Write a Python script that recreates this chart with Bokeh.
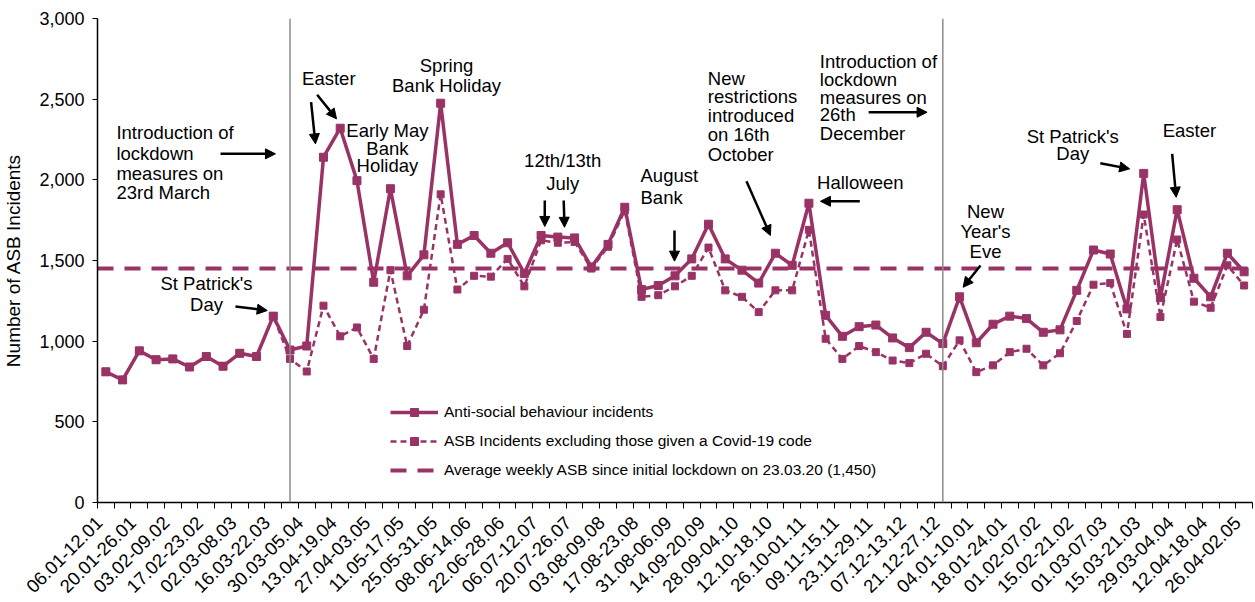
import math
from bokeh.plotting import figure
from bokeh.models import (Range1d, FixedTicker, NumeralTickFormatter, Span, Arrow,
                          NormalHead, Legend, LegendItem, ColumnDataSource)
from bokeh.core.properties import value
from bokeh.embed import file_html
from bokeh.resources import INLINE

# ---------------- data ----------------
tick_labels = ["06.01-12.01", "20.01-26.01", "03.02-09.02", "17.02-23.02", "02.03-08.03",
               "16.03-22.03", "30.03-05.04", "13.04-19.04", "27.04-03.05", "11.05-17.05",
               "25.05-31.05", "08.06-14.06", "22.06-28.06", "06.07-12.07", "20.07-26.07",
               "03.08-09.08", "17.08-23.08", "31.08-06.09", "14.09-20.09", "28.09-04.10",
               "12.10-18.10", "26.10-01.11", "09.11-15.11", "23.11-29.11", "07.12-13.12",
               "21.12-27.12", "04.01-10.01", "18.01-24.01", "01.02-07.02", "15.02-21.02",
               "01.03-07.03", "15.03-21.03", "29.03-04.04", "12.04-18.04", "26.04-02.05"]

asb_all = [810, 760, 940, 885, 890, 840, 905, 845, 925, 905,
           1155, 945, 970, 2140, 2320, 1995, 1365, 1945, 1405, 1535,
           2475, 1600, 1655, 1545, 1610, 1420, 1655, 1645, 1640, 1460,
           1600, 1830, 1320, 1345, 1405, 1510, 1725, 1510, 1440, 1360,
           1545, 1470, 1855, 1160, 1030, 1090, 1100, 1020, 960, 1055,
           985, 1275, 990, 1105, 1155, 1140, 1055, 1070, 1315, 1565,
           1540, 1200, 2040, 1270, 1815, 1390, 1275, 1545, 1430]

asb_excl_covid = [810, 760, 940, 885, 890, 840, 905, 845, 925, 905,
                  1155, 890, 812, 1220, 1030, 1085, 890, 1440, 970, 1195,
                  1910, 1320, 1405, 1400, 1510, 1340, 1625, 1610, 1615, 1450,
                  1585, 1810, 1275, 1285, 1340, 1405, 1580, 1315, 1275, 1180,
                  1315, 1315, 1690, 1015, 890, 970, 932, 880, 864, 922,
                  845, 1005, 808, 850, 932, 953, 850, 925, 1125, 1350,
                  1360, 1045, 1785, 1150, 1630, 1245, 1207, 1470, 1345]

average_since_lockdown = 1450
lockdown_weeks = [11, 50]   # 23.03-29.03 and 21.12-27.12

names = ["Anti-social behaviour incidents",
         "ASB Incidents excluding those given a Covid-19 code",
         "Average weekly ASB since initial lockdown on 23.03.20 (1,450)"]

# annotations: (text, week index, value)
ann_left = [
    ("Introduction of", 0.63, 2295), ("lockdown", 0.63, 2165),
    ("measures on", 0.63, 2041), ("23rd March", 0.63, 1920),
    ("August", 31.94, 2027), ("Bank", 31.94, 1892),
    ("New", 35.96, 2626), ("restrictions", 35.96, 2516), ("introduced", 35.96, 2399),
    ("on 16th", 35.96, 2279), ("October", 35.96, 2157),
    ("Halloween", 42.49, 1985),
    ("Introduction of", 42.65, 2735), ("lockdown", 42.65, 2622),
    ("measures on", 42.65, 2512), ("26th", 42.65, 2403), ("December", 42.65, 2289),
]
ann_center = [
    ("St Patrick's", 6.01, 1359), ("Day", 6.01, 1227),
    ("Easter", 13.32, 2626),
    ("Early May", 16.82, 2306), ("Bank", 16.82, 2192), ("Holiday", 16.82, 2089),
    ("Spring", 20.35, 2709), ("Bank Holiday", 20.35, 2585),
    ("12th/13th", 27.29, 2120), ("July", 27.29, 1979),
    ("New", 52.55, 1804), ("Year's", 52.55, 1682), ("Eve", 52.55, 1558),
    ("St Patrick's", 57.76, 2268), ("Day", 57.76, 2161),
    ("Easter", 64.73, 2306),
]
arrows = [
    (6.85, 2161, 10.13, 2161), (7.74, 1215, 9.64, 1190),
    (12.26, 2481, 12.52, 2223), (12.62, 2527, 13.78, 2378),
    (26.22, 1872, 26.22, 1711), (27.35, 1872, 27.40, 1706),
    (33.97, 1686, 33.97, 1496), (38.27, 1991, 39.70, 1655),
    (45.04, 1867, 42.69, 1867), (45.57, 2419, 49.06, 2419),
    (52.25, 1469, 51.21, 1334), (59.41, 2103, 61.16, 2068),
    (63.70, 2161, 63.94, 1892),
]

# ---------------- figure ----------------
COLOR = "#993366"
FONT = "Liberation Sans"
n = len(asb_all)
weeks = list(range(n))
LABEL_SHIFT = -0.4

p = figure(width=1255, height=602, output_backend="svg", toolbar_location=None,
           x_range=Range1d(-0.5, n - 0.5), y_range=Range1d(0, 3000),
           min_border_left=97, min_border_right=3, min_border_top=18, min_border_bottom=100)
p.outline_line_color = None
p.grid.visible = False
p.background_fill_color = "white"

# x axis
xa = p.xaxis[0]
xa.ticker = FixedTicker(ticks=[t + LABEL_SHIFT for t in range(0, n, 2)],
                        minor_ticks=[i - 0.5 for i in range(n + 1)])
xa.major_label_overrides = {2 * i + LABEL_SHIFT: lab for i, lab in enumerate(tick_labels)}
xa.major_label_orientation = math.pi / 4
xa.major_tick_in = 0
xa.major_tick_out = 0
xa.minor_tick_in = 0
xa.minor_tick_out = 6
xa.minor_tick_line_color = "black"
xa.axis_line_color = "black"
xa.axis_line_width = 1.5
xa.major_label_text_font = FONT
xa.major_label_text_font_size = "18.5px"
xa.major_label_text_color = "black"
xa.major_label_standoff = 11

# y axis
ya = p.yaxis[0]
ya.ticker = FixedTicker(ticks=list(range(0, 3001, 500)))
ya.formatter = NumeralTickFormatter(format="0,0")
ya.axis_label = "Number of ASB Incidents"
ya.axis_label_text_font = FONT
ya.axis_label_text_font_size = "19px"
ya.axis_label_text_font_style = "normal"
ya.axis_label_text_color = "black"
ya.axis_label_standoff = 12
ya.major_label_text_font = FONT
ya.major_label_text_font_size = "18px"
ya.major_label_text_color = "black"
ya.major_tick_in = 0
ya.major_tick_out = 5
ya.minor_tick_line_color = None
ya.axis_line_color = "black"
ya.axis_line_width = 1.5
ya.major_label_standoff = 8

# lockdown vertical lines
for w in lockdown_weeks:
    p.add_layout(Span(location=w, dimension="height", line_color="#8c8c8c", line_width=1.5))

# average line
avg_r = p.line([-0.5, n - 0.5], [average_since_lockdown] * 2, line_color=COLOR,
               line_width=4, line_dash="16 11")

# series
src = ColumnDataSource(dict(week=weeks, allv=asb_all, excl=asb_excl_covid))
ex_line = p.line("week", "excl", source=src, line_color=COLOR, line_width=2.5, line_dash="6 4")
ex_pts = p.scatter("week", "excl", source=src, marker="square", size=7,
                   fill_color=COLOR, line_color=COLOR)
all_line = p.line("week", "allv", source=src, line_color=COLOR, line_width=3.5)
all_pts = p.scatter("week", "allv", source=src, marker="square", size=8,
                    fill_color=COLOR, line_color=COLOR)

# annotations
for items, align in ((ann_left, "left"), (ann_center, "center")):
    p.text(x=[a[1] for a in items], y=[a[2] for a in items], text=[a[0] for a in items],
           text_font=value(FONT), text_font_size="18.5px", text_align=align,
           text_baseline="middle", text_color="black")

for x0, y0, x1, y1 in arrows:
    p.add_layout(Arrow(x_start=x0, y_start=y0, x_end=x1, y_end=y1,
                       line_color="black", line_width=2.5,
                       end=NormalHead(size=10, fill_color="black", line_color="black")))

legend = Legend(items=[LegendItem(label=names[0], renderers=[all_line, all_pts]),
                       LegendItem(label=names[1], renderers=[ex_line, ex_pts]),
                       LegendItem(label=names[2], renderers=[avg_r])],
                location=(293, 22), glyph_width=48, glyph_height=20, label_height=20,
                spacing=9, padding=0, margin=0, label_standoff=6,
                border_line_alpha=0, background_fill_alpha=0,
                label_text_font=FONT, label_text_font_size="15.5px",
                label_text_color="black")
p.add_layout(legend, "center")

open("out.html", "w").write(file_html(p, INLINE))
